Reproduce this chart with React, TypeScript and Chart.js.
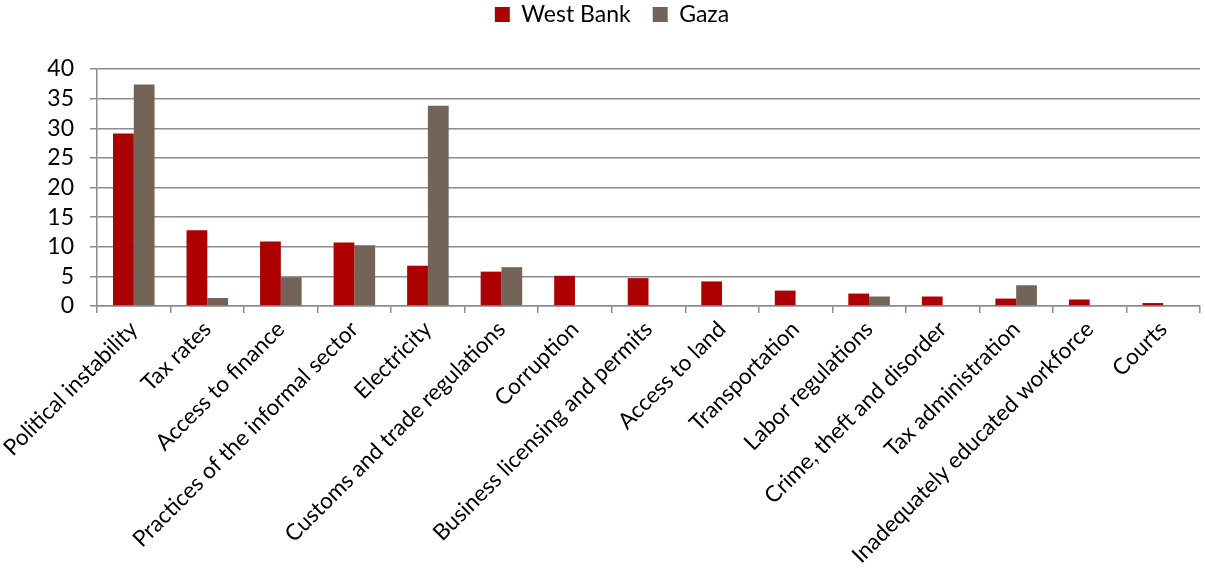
import React, { useEffect, useRef } from "react";
import { Chart, registerables } from "chart.js";

Chart.register(...registerables);

const categories = [
  "Political instability",
  "Tax rates",
  "Access to finance",
  "Practices of the informal sector",
  "Electricity",
  "Customs and trade regulations",
  "Corruption",
  "Business licensing and permits",
  "Access to land",
  "Transportation",
  "Labor regulations",
  "Crime, theft and disorder",
  "Tax administration",
  "Inadequately educated workforce",
  "Courts",
];

const westBank = [29.1, 12.8, 10.9, 10.7, 6.8, 5.8, 5.1, 4.7, 4.15, 2.6, 2.1, 1.6, 1.25, 1.1, 0.5];
const gaza = [37.4, 1.35, 4.85, 10.25, 33.8, 6.55, 0, 0, 0, 0, 1.6, 0, 3.5, 0, 0];

const yMin = 0;
const yMax = 40;
const yStep = 5;

const FONT = "Lato, sans-serif";

const legendMargin = {
  id: "legendMargin",
  beforeInit(chart: any) {
    const orig = chart.legend.fit;
    chart.legend.fit = function () {
      orig.bind(chart.legend)();
      this.height += 33;
    };
  },
};

export default function App() {
  const ref = useRef<HTMLCanvasElement | null>(null);

  useEffect(() => {
    if (!ref.current) return;
    const chart = new Chart(ref.current, {
      type: "bar",
      data: {
        labels: categories,
        datasets: [
          {
            label: "West Bank",
            data: westBank,
            backgroundColor: "#ad0000",
            categoryPercentage: 0.565,
            barPercentage: 1,
          },
          {
            label: "Gaza",
            data: gaza,
            backgroundColor: "#746357",
            categoryPercentage: 0.565,
            barPercentage: 1,
          },
        ],
      },
      plugins: [legendMargin],
      options: {
        animation: false,
        responsive: false,
        maintainAspectRatio: false,
        layout: { padding: { top: -19, right: 5, left: 24, bottom: 0 } },
        plugins: {
          legend: {
            position: "top",
            labels: {
              font: { family: FONT, size: 23 },
              color: "#000",
              boxWidth: 15,
              boxHeight: 15,
              padding: 22,
            },
          },
          tooltip: { enabled: false },
        },
        scales: {
          x: {
            grid: {
              display: true,
              drawOnChartArea: false,
              drawTicks: true,
              tickLength: 7,
              color: "#8c8c8c",
              lineWidth: 1.5,
            },
            border: { color: "#8c8c8c", width: 1.5 },
            ticks: {
              minRotation: 45,
              maxRotation: 45,
              autoSkip: false,
              color: "#000",
              font: { family: FONT, size: 22.5 },
              padding: 3,
            },
            afterFit: (s: any) => {
              s.height = 265;
            },
          },
          y: {
            min: yMin,
            max: yMax,
            ticks: {
              stepSize: yStep,
              autoSkip: false,
              color: "#000",
              font: { family: FONT, size: 23 },
              padding: 16,
            },
            grid: {
              color: "#8c8c8c",
              lineWidth: 1.5,
              drawTicks: true,
              tickLength: 7,
            },
            border: { color: "#8c8c8c", width: 1.5 },
            afterFit: (s: any) => {
              s.width = 73;
            },
          },
        },
      },
    });
    return () => chart.destroy();
  }, []);

  return (
    <div style={{ position: "fixed", left: 0, top: 0, width: 1205, height: 571, background: "#fff" }}>
      <canvas ref={ref} width={1205} height={571} style={{ width: 1205, height: 571 }} />
    </div>
  );
}
